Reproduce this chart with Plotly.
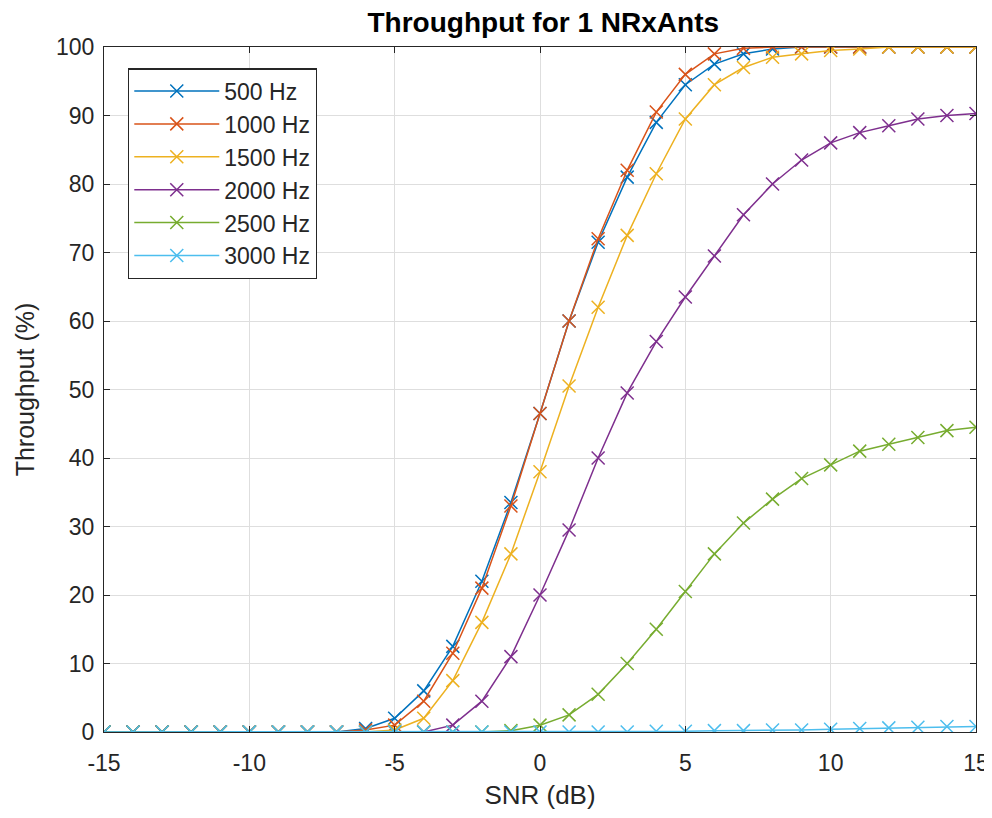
import plotly.graph_objects as go

snr = list(range(-15, 16))

labels = ["500 Hz", "1000 Hz", "1500 Hz", "2000 Hz", "2500 Hz", "3000 Hz"]
colors = ["#0072BD", "#D95319", "#EDB120", "#7E2F8E", "#77AC30", "#4DBEEE"]

x_tickvals = [-15, -10, -5, 0, 5, 10, 15]
x_ticktext = ["-15", "-10", "-5", "0", "5", "10", "15"]

tp_500 = [0, 0, 0, 0, 0, 0, 0, 0, 0, 0.5, 2, 6, 12.5, 22, 33.5, 46.5, 60, 71.5, 81, 89,
          94.5, 97.5, 99, 99.7, 100, 100, 100, 100, 100, 100, 100]
tp_1000 = [0, 0, 0, 0, 0, 0, 0, 0, 0, 0.3, 1, 4.5, 11.5, 21, 33, 46.5, 60, 72, 82, 90.5,
           96, 99, 99.8, 100, 100, 100, 100, 100, 100, 100, 100]
tp_1500 = [0, 0, 0, 0, 0, 0, 0, 0, 0, 0, 0.3, 2, 7.5, 16, 26, 38, 50.5, 62, 72.5, 81.5,
           89.5, 94.5, 97, 98.5, 99, 99.5, 99.7, 100, 100, 100, 100]
tp_2000 = [0, 0, 0, 0, 0, 0, 0, 0, 0, 0, 0, 0, 1, 4.5, 11, 20, 29.5, 40, 49.5, 57,
           63.5, 69.5, 75.5, 80, 83.5, 86, 87.5, 88.5, 89.5, 90, 90.3]
tp_2500 = [0, 0, 0, 0, 0, 0, 0, 0, 0, 0, 0, 0, 0, 0, 0.2, 1, 2.5, 5.5, 10, 15,
           20.5, 26, 30.5, 34, 37, 39, 41, 42, 43, 44, 44.5]
tp_3000 = [0, 0, 0, 0, 0, 0, 0, 0, 0, 0, 0, 0, 0, 0, 0, 0, 0, 0, 0, 0.1,
           0.1, 0.2, 0.2, 0.3, 0.3, 0.4, 0.5, 0.6, 0.7, 0.8, 0.8]

series = [tp_500, tp_1000, tp_1500, tp_2000, tp_2500, tp_3000]

FONT = "Liberation Sans, Arial, Helvetica"

fig = go.Figure()
for lab, col, ys in zip(labels, colors, series):
    fig.add_trace(go.Scatter(
        x=snr, y=ys, name=lab, mode="lines+markers",
        line=dict(color=col, width=1.5),
        marker=dict(symbol="x-thin", size=13, line=dict(color=col, width=1.5)),
    ))

axis_common = dict(
    showgrid=True, gridcolor="#DEDEDE", gridwidth=1,
    showline=True, linecolor="#262626", linewidth=1.3, mirror="ticks",
    ticks="inside", ticklen=6, tickcolor="#262626",
    tickfont=dict(family=FONT, size=23, color="#262626"),
    zeroline=False,
)

fig.update_layout(
    width=984, height=802,
    paper_bgcolor="white", plot_bgcolor="white",
    margin=dict(l=96, r=16, t=39, b=78, autoexpand=False),
    title=dict(text="<b>Throughput for 1 NRxAnts</b>", x=0.544, xanchor="center",
               y=0.9825, yanchor="middle",
               font=dict(family=FONT, size=28, color="black")),
    xaxis=dict(range=[-15, 15], tickmode="array", tickvals=x_tickvals, ticktext=x_ticktext,
               ticklabelstandoff=10,
               title=dict(text="SNR (dB)", font=dict(family=FONT, size=26, color="#262626"), standoff=16),
               **axis_common),
    yaxis=dict(range=[0, 100], dtick=10, ticklabelstandoff=4,
               title=dict(text="Throughput (%)", font=dict(family=FONT, size=25, color="#262626"), standoff=14),
               **axis_common),
    legend=dict(x=0.0275, y=0.969, xanchor="left", yanchor="top",
                bgcolor="white", bordercolor="#262626", borderwidth=1.3,
                font=dict(family=FONT, size=23, color="#262626"),
                tracegroupgap=0, itemwidth=85),
    showlegend=True,
)

fig.write_html("out.html")
